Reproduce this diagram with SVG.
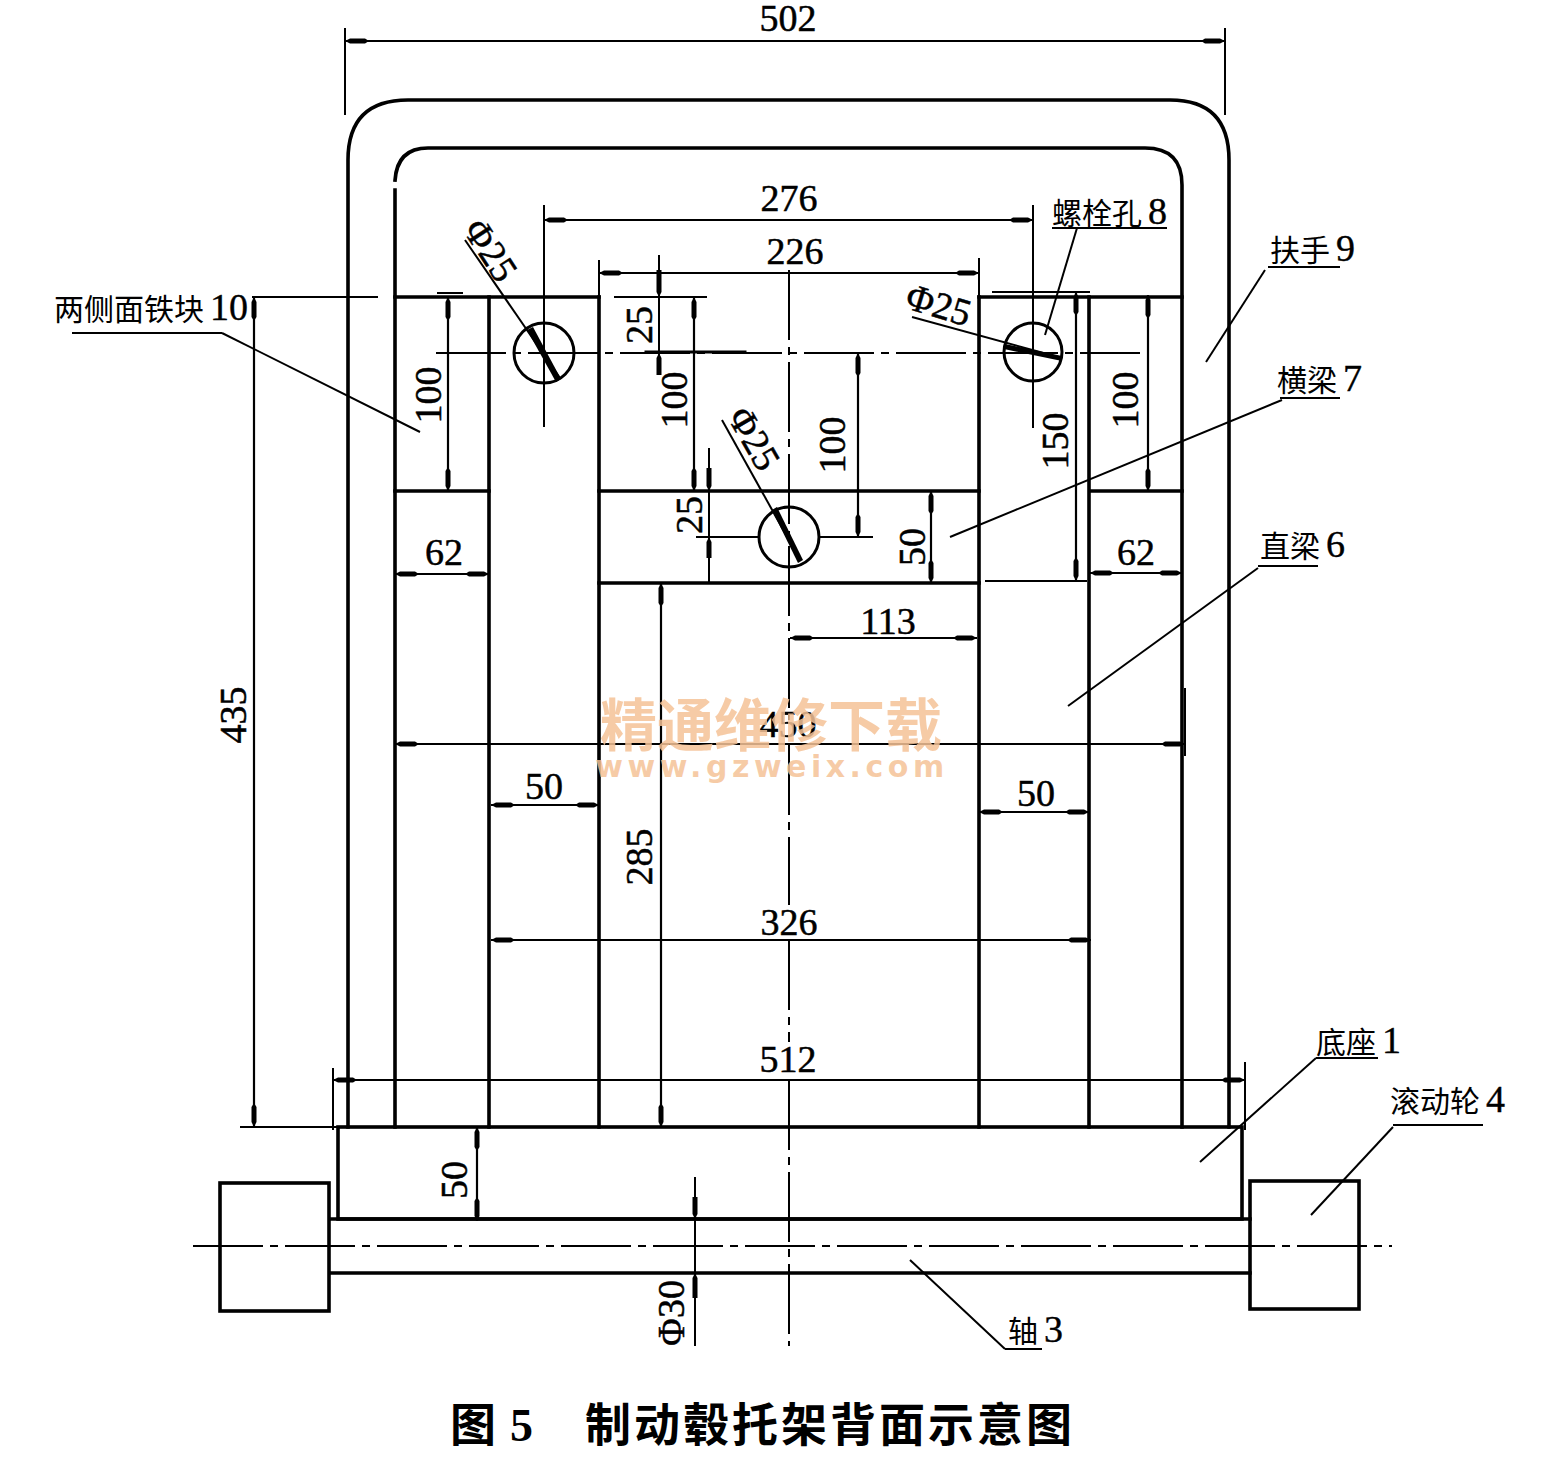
<svg xmlns="http://www.w3.org/2000/svg" width="1544" height="1480" viewBox="0 0 1544 1480">
<style>
.m{stroke:#000;stroke-width:3.6;fill:none;stroke-linecap:square}
.t{stroke:#000;stroke-width:2;fill:none}
.b{stroke:#000;stroke-width:3;fill:none}
.c{stroke:#000;stroke-width:2;fill:none;stroke-dasharray:70 7 8 7}
.d{stroke:#000;stroke-width:2.2;fill:none;marker-start:url(#a);marker-end:url(#a)}
text{font-family:"Liberation Serif","Noto Sans CJK SC",serif;fill:#000}
.n{font-size:38px;text-anchor:middle;stroke:#000;stroke-width:.5}
.l{font-size:30px;font-family:"Noto Sans CJK SC","Liberation Serif",serif;font-weight:400}
.l tspan{font-family:"Liberation Serif",serif;font-size:38px;stroke:#000;stroke-width:.4}
.cap{font-size:46px;font-weight:700;font-family:"Noto Sans CJK SC",serif}
.wm{fill:#f5c296;fill-opacity:.85;font-weight:700;text-anchor:middle}
</style>
<defs>
<marker id="a" viewBox="0 0 24 8" refX="24" refY="4" markerWidth="24" markerHeight="8" markerUnits="userSpaceOnUse" orient="auto-start-reverse"><path d="M0 4L4 1.500L19 1.500L24 4L19 6.500L4 6.500Z" fill="#000"/></marker>
</defs>
<rect width="1544" height="1480" fill="#fff"/>
<g id="frame-handrail">
<path class="m" d="M348 1127V160Q348 100 408 100H1170Q1229 100 1229 160V1127"/>
<path class="m" d="M395 1127V190M395 180Q397 148 428 148H1145Q1182 148 1182 185V1127"/>
</g>
<g id="side-blocks">
<path class="m" d="M395 297H599M979 297H1182M395 491H489M1090 491H1182"/>
<path class="m" d="M489 297V1127M1089 297V1127"/>
</g>
<g id="straight-beams">
<path class="m" d="M599 297V1127M979 297V1127"/>
</g>
<g id="crossbeam">
<path class="m" d="M599 491H979M599 583H979"/>
</g>
<g id="base">
<rect class="m" x="338" y="1127" width="904" height="92"/>
</g>
<g id="axle">
<path class="m" d="M330 1219H1250M330 1273H1250"/>
</g>
<g id="wheels">
<rect class="m" x="220" y="1183" width="109" height="128"/>
<rect class="m" x="1250" y="1181" width="109" height="128"/>
</g>
<g id="holes">
<circle class="b" cx="544" cy="353" r="30"/>
<circle class="b" cx="1033" cy="352" r="29"/>
<circle class="b" cx="789" cy="537" r="30"/>
</g>
<g id="connectors">
<path class="c" d="M436 353H1140"/>
<path class="c" d="M193 1246H1392"/>
<path class="c" d="M789 270V720M789 745V905M789 940V1042M789 1080V1346"/>
<path class="t" d="M544 205V427M1033 205V428"/>
<path class="t" d="M345 28V115M1225 28V115M599 260V297M979 258V297M252 297H378M437 293H463M614 297H707M992 292H1090M985 581H1087M696 537H760M820 537H873M240 1127H338M1185 688V756M333 1068V1130M1245 1062V1130"/>
<path class="m" d="M646 352H745" style="stroke-width:3"/>
<path class="d" d="M345 41H1225"/>
<path class="d" d="M544 220H1033"/>
<path class="d" d="M599 273H979"/>
<path class="d" d="M254 297V1127"/>
<path class="d" d="M448 297V491"/>
<path class="d" d="M694 297V491"/>
<path class="d" d="M858 353V537"/>
<path class="d" d="M931 491V583"/>
<path class="d" d="M1076 292V581"/>
<path class="d" d="M1148 295V491"/>
<path class="d" d="M395 574H489"/>
<path class="d" d="M1090 573H1182"/>
<path class="d" d="M790 638H977"/>
<path class="d" d="M395 744H1185"/>
<path class="d" d="M491 805H599"/>
<path class="d" d="M979 812H1089"/>
<path class="d" d="M661 583V1127"/>
<path class="d" d="M491 940H1091"/>
<path class="d" d="M333 1080H1245"/>
<path class="d" d="M477 1127V1221"/>
<path class="t" d="M659 255V375"/>
<path d="M656.500 270H661.500V292L659 297L656.500 292ZM656.500 375H661.500V358L659 353L656.500 358Z" fill="#000"/>
<path class="t" d="M709 448V583"/>
<path d="M706.500 468H711.500V486L709 491L706.500 486ZM706.500 558H711.500V542L709 537L706.500 542Z" fill="#000"/>
<path class="t" d="M695 1177V1346"/>
<path d="M692.500 1197H697.500V1214L695 1219L692.500 1214ZM692.500 1298H697.500V1278L695 1273L692.500 1278Z" fill="#000"/>
<path class="t" d="M465 240L560 378"/>
<path d="M527 330L533 327L561 379L556 382Z" fill="#000"/>
<path class="t" d="M912 317L1062 358"/>
<path d="M1005 344L1062 356L1062 361L1004 349Z" fill="#000"/>
<path class="t" d="M722 420L800 560"/>
<path d="M772 510L777 507L803 560L798 563Z" fill="#000"/>
<path class="t" d="M1077 228L1045 335"/>
<path class="t" d="M1265 270L1206 362"/>
<path class="t" d="M1282 400L950 537"/>
<path class="t" d="M1258 568L1068 706"/>
<path class="t" d="M1316 1058L1200 1162"/>
<path class="t" d="M1393 1127L1311 1215"/>
<path class="t" d="M1005 1349L910 1260"/>
<path class="t" d="M222 333L420 432"/>
<path class="t" d="M1052 228H1167M1268 267H1340M1280 398H1340M1258 566H1318M1316 1058H1378M1393 1125H1483M1005 1349H1042M72 333H222"/>
</g>
<g id="dimension-labels">
<text class="n" x="788" y="31">502</text>
<text class="n" x="789" y="211">276</text>
<text class="n" x="795" y="264">226</text>
<text class="n" transform="translate(246 715) rotate(-90)">435</text>
<text class="n" transform="translate(441 395) rotate(-90)">100</text>
<text class="n" transform="translate(652 325) rotate(-90)">25</text>
<text class="n" transform="translate(687 400) rotate(-90)">100</text>
<text class="n" transform="translate(702 515) rotate(-90)">25</text>
<text class="n" transform="translate(845 445) rotate(-90)">100</text>
<text class="n" transform="translate(925 547) rotate(-90)">50</text>
<text class="n" transform="translate(1068 441) rotate(-90)">150</text>
<text class="n" transform="translate(1138 400) rotate(-90)">100</text>
<text class="n" x="444" y="565">62</text>
<text class="n" x="1136" y="565">62</text>
<text class="n" x="888" y="634">113</text>
<text class="n" x="788" y="737">450</text>
<text class="n" x="544" y="799">50</text>
<text class="n" x="1036" y="806">50</text>
<text class="n" transform="translate(652 857) rotate(-90)">285</text>
<text class="n" x="789" y="935">326</text>
<text class="n" x="788" y="1072">512</text>
<text class="n" transform="translate(467 1180) rotate(-90)">50</text>
<text class="n" transform="translate(684 1313) rotate(-90)">Φ30</text>
<text class="n" transform="translate(480 257) rotate(57)">Φ25</text>
<text class="n" transform="translate(935 317) rotate(17)">Φ25</text>
<text class="n" transform="translate(743 445) rotate(60)">Φ25</text>
</g>
<g id="part-labels">
<text class="l" x="54" y="320">两侧面铁块<tspan dx="6">10</tspan></text>
<text class="l" x="1052" y="224">螺栓孔<tspan dx="6">8</tspan></text>
<text class="l" x="1270" y="261">扶手<tspan dx="6">9</tspan></text>
<text class="l" x="1277" y="391">横梁<tspan dx="6">7</tspan></text>
<text class="l" x="1260" y="557">直梁<tspan dx="6">6</tspan></text>
<text class="l" x="1316" y="1053">底座<tspan dx="6">1</tspan></text>
<text class="l" x="1390" y="1112">滚动轮<tspan dx="6">4</tspan></text>
<text class="l" x="1008" y="1342">轴<tspan dx="6">3</tspan></text>
</g>
<g id="watermark">
<text class="wm" x="771" y="746" font-size="57" style="font-family:'Noto Sans CJK SC',sans-serif">精通维修下载</text>
<text class="wm" x="772" y="777" font-size="30" style="font-family:'DejaVu Sans',sans-serif;letter-spacing:4.500px">www.gzweix.com</text>
</g>
<g id="caption">
<text class="cap" x="450" y="1441">图</text>
<text class="cap" x="510" y="1441" style="font-family:'Liberation Serif',serif">5</text>
<text class="cap" x="585" y="1441" style="letter-spacing:3px">制动毂托架背面示意图</text>
</g>
</svg>
